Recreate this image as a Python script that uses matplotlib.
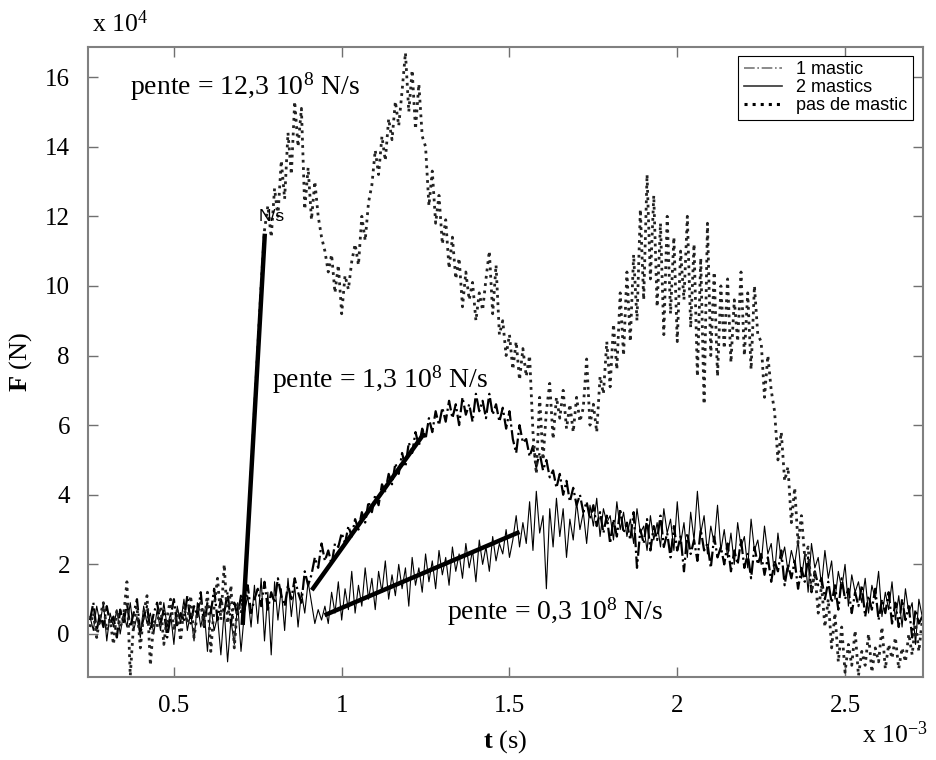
import numpy as np
import matplotlib
matplotlib.use("Agg")
import matplotlib.pyplot as plt

plt.rcParams['font.family'] = ['Liberation Serif', 'DejaVu Serif']
plt.rcParams['mathtext.fontset'] = 'custom'
plt.rcParams['mathtext.rm'] = 'Liberation Serif'
plt.rcParams['mathtext.it'] = 'Liberation Serif:italic'
plt.rcParams['mathtext.bf'] = 'Liberation Serif:bold'

# sampling of the recorded signals (t in 1e-3 s, F in 1e4 N)
t0 = 0.25
dt = 0.01

pas_de_mastic = [
    0.2, 0.6, -0.1, 0.5, 0.9, 0.1, 0.4, -0.3, 0.7, 0.2,
    0.5, 1.5, -1.2, 0.3, 0.8, -0.4, 0.6, 1.1, -0.9, 0.4,
    0.2, 0.9, -0.3, 0.5, 1.0, 0.1, 0.7, -0.2, 0.8, 0.3,
    1.1, -0.1, 0.6, 0.9, 0.2, 1.2, -0.5, 0.8, 1.6, 0.4,
    2.0, 0.3, 1.4, -0.4, 0.9, 0.6, 1.2, 2.8, 4.6, 6.4,
    8.2, 10.0, 11.6, 12.3, 11.4, 12.8, 12.0, 13.6, 12.5, 14.4,
    13.2, 15.3, 14.0, 15.1, 12.2, 13.4, 11.9, 13.0, 12.0, 11.4,
    11.0, 10.4, 10.9, 9.8, 10.6, 9.2, 10.3, 9.9, 10.7, 11.2,
    10.6, 12.0, 11.3, 12.4, 12.9, 13.9, 13.2, 14.3, 13.6, 14.8,
    14.2, 15.3, 14.6, 15.6, 16.7, 15.0, 16.2, 14.5, 15.8, 14.3,
    14.0, 12.3, 13.3, 11.8, 12.6, 11.2, 11.9, 10.5, 11.4, 10.2,
    10.8, 9.4, 10.4, 9.6, 10.1, 9.0, 9.8, 9.3, 10.2, 11.0,
    9.2, 10.6, 8.6, 9.0, 8.0, 8.6, 7.6, 8.4, 7.3, 8.2,
    7.4, 8.0, 5.8, 4.6, 6.8, 5.0, 6.4, 7.2, 5.6, 6.8,
    6.2, 7.0, 5.9, 6.6, 5.8, 6.8, 6.1, 6.5, 7.9, 6.0,
    6.6, 5.8, 7.4, 6.9, 8.4, 7.1, 8.9, 7.6, 9.8, 8.0,
    10.4, 8.4, 10.9, 9.0, 12.2, 9.6, 13.2, 10.2, 12.6, 9.4,
    11.8, 8.6, 12.0, 9.2, 11.4, 8.4, 11.0, 9.6, 12.0, 8.8,
    11.2, 7.4, 10.8, 6.6, 11.8, 8.0, 10.4, 7.4, 10.0, 8.2,
    10.2, 7.8, 9.6, 8.4, 10.4, 8.0, 9.8, 7.6, 10.0, 8.6,
    8.4, 6.8, 8.0, 7.0, 6.4, 5.0, 5.8, 4.4, 4.8, 3.2,
    4.2, 2.6, 3.4, 2.2, 2.5, 1.2, 1.8, 0.6, 1.4, 0.2,
    1.0, -0.4, 0.6, -0.8, 0.2, -1.1, -0.3, -0.9, 0.1, -1.2,
    -0.5, -0.9, 0.0, -1.1, -0.4, -0.8, 0.2, -1.0, -0.3, -0.7,
    -0.1, -1.0, -0.4, -0.8, 0.0, -0.6, 0.3, -0.5, 0.4,
]

un_mastic = [
    0.4, 0.9, 0.1, 0.6, 0.2, 0.8, 0.3, 0.5, -0.1, 0.7,
    0.3, 0.9, 0.2, 0.6, 1.0, 0.0, 0.5, 0.8, 0.1, 0.6,
    0.9, 0.3, 0.7, -0.1, 0.5, 1.0, 0.2, 0.6, 0.4, 1.1,
    0.3, 0.8, 0.5, 1.2, 0.2, 0.9, 0.6, 1.3, 0.4, 1.0,
    0.6, 1.2, 0.3, 0.9, 0.5, 1.1, 0.7, 1.4, 0.6, 1.0,
    1.3, 0.8, 1.5, 0.7, 1.2, 0.9, 1.6, 1.1, 0.8, 1.4,
    1.0, 1.6, 1.2, 0.9, 1.8, 1.4, 1.7, 2.2, 1.9, 2.6,
    2.1, 2.4, 2.0, 2.6, 2.5, 2.9, 2.6, 3.1, 2.8, 3.3,
    3.0, 3.5, 3.2, 3.8, 3.5, 4.0, 3.7, 4.3, 4.1, 4.6,
    4.3, 4.9, 4.6, 5.2, 4.8, 5.5, 5.2, 5.8, 5.4, 5.9,
    5.6, 6.2, 5.8, 6.4, 6.0, 6.5, 6.1, 6.7, 6.2, 6.6,
    6.0, 6.8, 6.3, 6.6, 6.1, 6.9, 6.4, 6.7, 6.2, 6.9,
    6.3, 6.6, 6.1, 6.5, 5.9, 6.4, 5.6, 5.2, 6.0, 5.5,
    5.6, 5.1, 5.4, 4.8, 5.2, 4.7, 5.0, 4.5, 4.7, 4.2,
    4.6, 4.0, 4.4, 3.8, 4.2, 3.7, 4.0, 3.5, 3.8, 3.3,
    3.7, 3.1, 3.5, 2.9, 3.4, 2.6, 3.3, 2.8, 3.6, 2.9,
    3.2, 2.7, 3.5, 1.9, 3.0, 2.6, 3.3, 2.4, 3.1, 2.7,
    3.4, 2.5, 2.9, 2.2, 3.1, 2.4, 2.8, 1.8, 2.9, 2.3,
    2.7, 2.1, 3.0, 2.4, 2.6, 1.9, 2.8, 2.2, 2.5, 2.0,
    2.6, 1.8, 2.4, 2.0, 2.7, 1.9, 2.3, 1.6, 2.5, 2.0,
    2.3, 1.7, 2.2, 1.5, 2.1, 1.8, 2.4, 1.4, 2.0, 1.6,
    2.1, 1.3, 1.9, 1.5, 2.2, 1.2, 1.8, 1.4, 1.6, 1.0,
    1.5, 0.9, 1.4, 0.7, 1.6, 1.0, 1.3, 0.6, 1.2, 0.8,
    1.4, 0.5, 1.1, 0.7, 1.3, 0.4, 1.0, 0.6, 1.2, 0.3,
    0.9, 0.2, 1.0, 0.4, 0.8, -0.1, 0.7, 0.3, 0.5,
]

deux_mastics = [
    0.5, 0.1, 0.8, 0.3, 0.9, -0.2, 0.6, 0.2, 0.7, 0.0,
    0.6, 0.2, 0.9, 0.1, 0.5, -0.1, 0.8, 0.3, 0.6, 0.0,
    0.7, 0.1, 0.9, 0.2, 0.6, -0.3, 0.8, 0.3, 1.0, 0.1,
    0.6, -0.2, 0.9, 0.2, 0.7, -0.5, 0.8, 0.1, 0.5, -0.6,
    0.7, -0.8, 0.4, -0.3, 0.9, -0.5, 0.6, 1.1, 0.2, 1.4,
    0.3, 1.6, -0.2, 1.2, -0.6, 1.5, 0.4, 1.3, 0.1, 1.6,
    0.5, 1.4, 0.2, 1.2, 0.6, 1.5, 0.9, 0.3, 0.7, 0.4,
    0.8, 0.3, 1.2, 0.6, 1.5, 0.4, 1.3, 0.7, 1.8, 0.6,
    1.4, 0.8, 1.9, 1.0, 1.6, 0.7, 1.8, 1.2, 2.1, 1.0,
    1.7, 1.1, 2.0, 1.3, 1.9, 0.8, 2.2, 1.4, 1.9, 1.2,
    2.3, 1.5, 2.1, 1.3, 2.4, 1.7, 2.2, 1.4, 2.5, 1.8,
    2.3, 1.6, 2.6, 1.9, 2.4, 1.5, 2.7, 2.0, 2.5, 1.8,
    2.8, 2.1, 2.6, 2.3, 3.0, 2.2, 2.7, 3.4, 2.5, 3.2,
    2.6, 3.8, 2.4, 4.1, 2.9, 3.4, 1.3, 3.6, 2.5, 3.9,
    2.8, 3.6, 2.2, 3.3, 2.7, 3.8, 3.0, 3.5, 2.6, 3.7,
    3.1, 3.9, 2.8, 3.6, 3.2, 3.4, 2.7, 3.8, 3.0, 3.5,
    2.8, 3.3, 2.6, 3.6, 2.9, 3.1, 2.4, 3.4, 2.7, 3.2,
    2.5, 3.6, 2.9, 3.3, 2.4, 3.8, 2.6, 3.2, 2.2, 3.5,
    2.7, 4.1, 2.9, 3.4, 2.3, 3.1, 2.6, 3.7, 2.4, 3.0,
    2.2, 2.9, 2.0, 3.2, 2.5, 2.8, 1.9, 3.3, 2.4, 2.7,
    2.0, 3.1, 2.3, 2.6, 1.7, 2.9, 2.1, 2.5, 1.8, 2.4,
    2.0, 2.7, 1.6, 2.3, 1.2, 2.6, 1.9, 2.2, 1.4, 2.4,
    1.6, 2.1, 1.0, 1.8, 1.3, 2.0, 0.8, 1.7, 1.2, 1.5,
    0.9, 1.6, 0.6, 1.4, 1.0, 1.8, 0.5, 1.2, 0.7, 1.5,
    0.4, 1.1, 0.2, 1.3, 0.6, 0.9, -0.3, 1.0, 0.5,
]

# regression segments (t in 1e-3 s, F in 1e4 N)
fit_t = [[0.705, 0.771], [0.911, 1.247], [0.949, 1.53]]
fit_F = [[0.26, 11.5], [1.26, 5.78], [0.54, 2.93]]

x_ticks = [0.5, 1, 1.5, 2, 2.5]
x_ticklabels = ['0.5', '1', '1.5', '2', '2.5']
y_ticks = [0, 2, 4, 6, 8, 10, 12, 14, 16]

t = t0 + dt * np.arange(len(pas_de_mastic))

fig = plt.figure(figsize=(9.36, 7.6), dpi=100)
ax = fig.add_axes([0.094, 0.109, 0.892, 0.829])

ax.plot(t, un_mastic, color='black', linestyle='-.', linewidth=1.6, label='1 mastic')
ax.plot(t, deux_mastics, color='black', linestyle='-', linewidth=0.8, label='2 mastics')
ax.plot(t, pas_de_mastic, color='#222222', linestyle=':', linewidth=2.0, label='pas de mastic')

for ft, fF in zip(fit_t, fit_F):
    ax.plot(ft, fF, color='black', linewidth=3.2, solid_capstyle='butt')

ax.set_xlim(0.244, 2.732)
ax.set_ylim(-1.24, 16.86)
ax.set_xticks(x_ticks)
ax.set_xticklabels(x_ticklabels)
ax.set_yticks(y_ticks)
ax.tick_params(direction='in', length=7, width=1, color='#707070',
               top=True, right=True, labelsize=18, pad=13)
for s in ax.spines.values():
    s.set_color('#808080')
    s.set_linewidth(1.5)

ax.text(0.37, 15.72, r'pente = 12,3 10$^{8}$ N/s', fontsize=20, va='center')
ax.text(0.792, 7.30, r'pente = 1,3 10$^{8}$ N/s', fontsize=20, va='center')
ax.text(1.315, 0.63, r'pente = 0,3 10$^{8}$ N/s', fontsize=20, va='center')
ax.text(0.752, 11.98, 'N/s', fontsize=12.5, va='center', family=['Liberation Sans'])

fig.text(92 / 936, 1 - 24 / 760, r'x 10$^{4}$', fontsize=18.5, va='center')
fig.text(862 / 936, 1 - 735 / 760, r'x 10$^{-3}$', fontsize=18.5, va='center')

ax.set_xlabel(r'$\mathbf{t}$ (s)', fontsize=19, labelpad=8)
ax.set_ylabel(r'$\mathbf{F}$ (N)', fontsize=19, labelpad=8)

leg = ax.legend(loc='upper right', bbox_to_anchor=(0.988, 0.986), borderaxespad=0,
                prop={'family': 'Liberation Sans', 'size': 13}, fancybox=False,
                edgecolor='black', framealpha=1, handlelength=2.1,
                handletextpad=0.8, labelspacing=0.05, borderpad=0.3)
leg.get_frame().set_linewidth(0.8)
handle_styles = [('#777777', 1.2), ('#333333', 1.2), ('black', 2.2)]
for h, (c, w) in zip(leg.get_lines(), handle_styles):
    h.set_color(c)
    h.set_linewidth(w)

fig.savefig('out.png', dpi=100)
